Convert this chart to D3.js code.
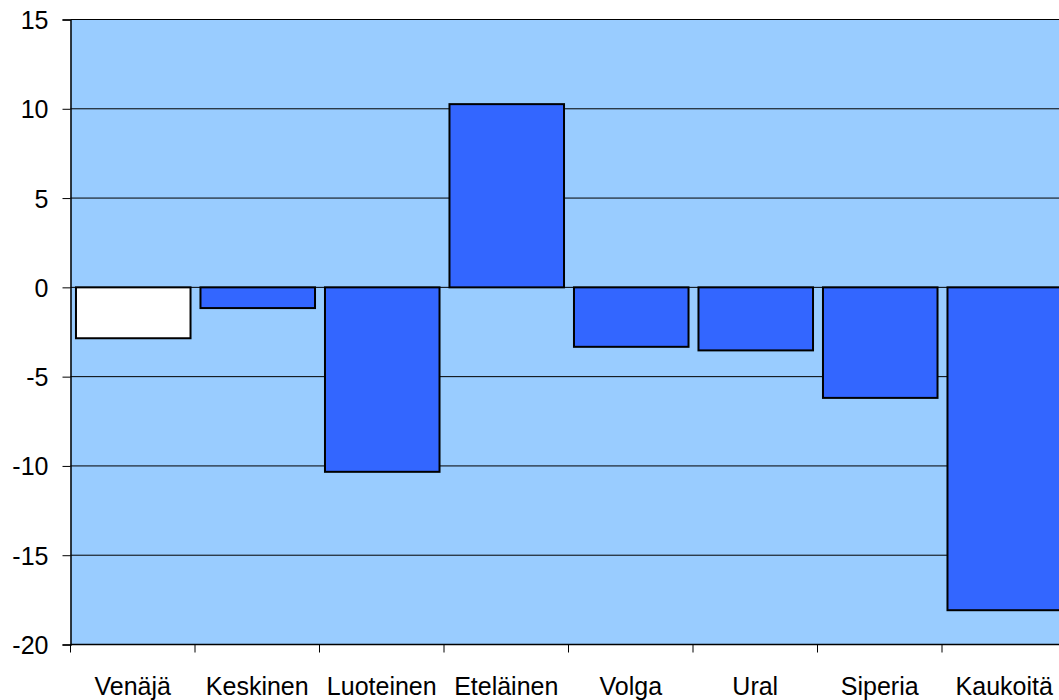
<!DOCTYPE html>
<html>
<head>
<meta charset="utf-8">
<script src="https://cdn.jsdelivr.net/npm/d3@7"></script>
<style>
  body { margin: 0; background: #fff; }
  svg text { font-family: "Liberation Sans", Arial, sans-serif; fill: #000; }
</style>
</head>
<body>
<div class="chart"></div>
<script>
const regions = ['Venäjä', 'Keskinen', 'Luoteinen', 'Eteläinen', 'Volga', 'Ural', 'Siperia', 'Kaukoitä'];
const changes = [-2.85, -1.16, -10.33, 10.26, -3.33, -3.53, -6.19, -18.08];
const yTicks = [15, 10, 5, 0, -5, -10, -15, -20];

const data = regions.map((r, i) => ({ region: r, value: changes[i] }));

const margin = { top: 19.5, left: 70.5 },
  plotWidth = 996,
  plotHeight = 625;

const x = d3.scaleBand().domain(regions).range([0, plotWidth]).paddingInner(0.08).paddingOuter(0.04);
const y = d3.scaleLinear().domain([-20, 15]).range([plotHeight, 0]);

const svg = d3.select(".chart")
  .append("svg")
  .attr("width", 1059)
  .attr("height", 700);

const g = svg.append("g")
  .attr("transform", "translate(" + margin.left + "," + margin.top + ")");

// plot background
g.append("rect")
  .attr("width", plotWidth)
  .attr("height", plotHeight)
  .attr("fill", "#99ccff");

// gridlines
g.selectAll(".grid")
  .data(yTicks)
  .enter()
  .append("line")
  .attr("x1", 0)
  .attr("x2", plotWidth)
  .attr("y1", d => y(d))
  .attr("y2", d => y(d))
  .attr("stroke", "#000")
  .attr("stroke-width", 1);

// bars
g.selectAll(".bar")
  .data(data)
  .enter()
  .append("rect")
  .attr("x", d => x(d.region) + 0.5)
  .attr("width", x.bandwidth())
  .attr("y", d => y(Math.max(0, d.value)))
  .attr("height", d => Math.abs(y(d.value) - y(0)))
  .attr("fill", (d, i) => i === 0 ? "#ffffff" : "#3366ff")
  .attr("stroke", "#000")
  .attr("stroke-width", 2);

// y axis
const yAxis = d3.axisLeft(y).tickValues(yTicks).tickSize(8).tickPadding(14).tickFormat(d3.format("d"));
const yg = g.append("g").call(yAxis);
yg.select(".domain").attr("stroke", "#000").attr("stroke-width", 1.5);
yg.selectAll(".tick line").attr("stroke", "#000");
yg.selectAll(".tick text")
  .style("font-size", "25px")
  .attr("dy", "0.36em")
  .text(d => d < 0 ? "-" + Math.abs(d) : d);

// x axis: ticks at band boundaries
const xg = g.append("g").attr("transform", "translate(0," + plotHeight + ")");
xg.append("line")
  .attr("x1", 0).attr("x2", plotWidth)
  .attr("stroke", "#000").attr("stroke-width", 1.5);

const step = x.step();
const bounds = d3.range(regions.length + 1).map(i => i * step);
xg.selectAll(".xtick")
  .data(bounds)
  .enter()
  .append("line")
  .attr("x1", d => d).attr("x2", d => d)
  .attr("y1", 0).attr("y2", 8)
  .attr("stroke", "#000");

xg.selectAll(".xlabel")
  .data(regions)
  .enter()
  .append("text")
  .attr("x", (d, i) => i * step + step / 2)
  .attr("y", 50)
  .attr("text-anchor", "middle")
  .style("font-size", "25px")
  .text(d => d);
</script>
</body>
</html>
